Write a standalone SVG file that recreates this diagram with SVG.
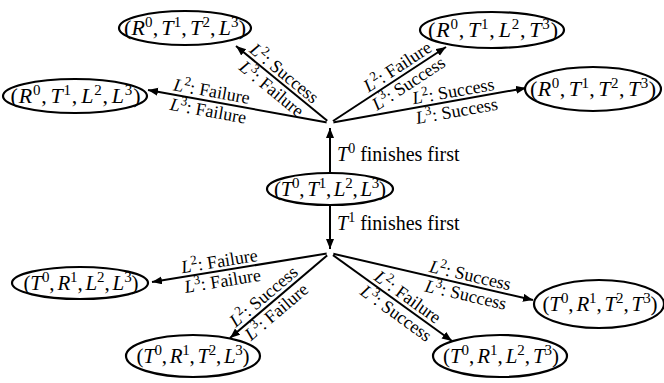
<svg xmlns="http://www.w3.org/2000/svg" width="664" height="383" viewBox="0 0 664 383">
<style>
.e{stroke:#000;stroke-width:2;fill:none;marker-end:url(#ah)}
.n ellipse{fill:#fff;stroke:#000;stroke-width:2.2}
.t{font-family:"Liberation Serif","Times New Roman",serif;font-size:22px;text-anchor:middle;fill:#000}
.t .s{font-size:15px}
.l{font-family:"Liberation Serif","Times New Roman",serif;font-size:18px;text-anchor:middle;fill:#000}
.v{font-family:"Liberation Serif","Times New Roman",serif;font-size:20px;fill:#000}
.i{font-style:italic}
.s{font-size:14px}
.l .s{font-size:13px}
</style>
<defs>
<marker id="ah" markerUnits="userSpaceOnUse" markerWidth="11" markerHeight="9" refX="10" refY="4" orient="auto">
<path d="M0,0 L10,4 L0,8 z" fill="#000"/>
</marker>
</defs>
<g id="connectors">
<line class="e" x1="330" y1="173" x2="330" y2="128"/>
<line class="e" x1="330" y1="205" x2="330" y2="249"/>
<line class="e" x1="330" y1="123" x2="236" y2="46"/>
<line class="e" x1="330" y1="123" x2="148" y2="90"/>
<line class="e" x1="330" y1="123" x2="446" y2="47"/>
<line class="e" x1="330" y1="123" x2="526" y2="88"/>
<line class="e" x1="330" y1="253" x2="152" y2="282"/>
<line class="e" x1="330" y1="253" x2="230" y2="338"/>
<line class="e" x1="330" y1="253" x2="533" y2="300"/>
<line class="e" x1="330" y1="253" x2="452" y2="341"/>
<circle cx="330" cy="123" r="3.5" fill="#fff"/>
<circle cx="330" cy="253" r="3.5" fill="#fff"/>
<text class="v" x="337" y="161"><tspan class="i">T</tspan><tspan class="s" dy="-8">0</tspan><tspan dy="8"> finishes first</tspan></text>
<text class="v" x="337" y="230"><tspan class="i">T</tspan><tspan class="s" dy="-8">1</tspan><tspan dy="8"> finishes first</tspan></text>
<g transform="translate(278,81) rotate(39.3)">
<text class="l" y="-4"><tspan class="i">L</tspan><tspan class="s" dy="-7">2</tspan><tspan dy="7">: Success</tspan></text>
<text class="l" y="16"><tspan class="i">L</tspan><tspan class="s" dy="-7">3</tspan><tspan dy="7">: Failure</tspan></text>
</g>
<g transform="translate(210,101) rotate(10.3)">
<text class="l" y="-4"><tspan class="i">L</tspan><tspan class="s" dy="-7">2</tspan><tspan dy="7">: Failure</tspan></text>
<text class="l" y="16"><tspan class="i">L</tspan><tspan class="s" dy="-7">3</tspan><tspan dy="7">: Failure</tspan></text>
</g>
<g transform="translate(403,75) rotate(-33.2)">
<text class="l" y="-4"><tspan class="i">L</tspan><tspan class="s" dy="-7">2</tspan><tspan dy="7">: Failure</tspan></text>
<text class="l" y="16"><tspan class="i">L</tspan><tspan class="s" dy="-7">3</tspan><tspan dy="7">: Success</tspan></text>
</g>
<g transform="translate(455,101) rotate(-10.1)">
<text class="l" y="-4"><tspan class="i">L</tspan><tspan class="s" dy="-7">2</tspan><tspan dy="7">: Success</tspan></text>
<text class="l" y="16"><tspan class="i">L</tspan><tspan class="s" dy="-7">3</tspan><tspan dy="7">: Success</tspan></text>
</g>
<g transform="translate(221,271) rotate(-9.25)">
<text class="l" y="-4"><tspan class="i">L</tspan><tspan class="s" dy="-7">2</tspan><tspan dy="7">: Failure</tspan></text>
<text class="l" y="16"><tspan class="i">L</tspan><tspan class="s" dy="-7">3</tspan><tspan dy="7">: Failure</tspan></text>
</g>
<g transform="translate(270,304) rotate(-40.4)">
<text class="l" y="-4"><tspan class="i">L</tspan><tspan class="s" dy="-7">2</tspan><tspan dy="7">: Success</tspan></text>
<text class="l" y="16"><tspan class="i">L</tspan><tspan class="s" dy="-7">3</tspan><tspan dy="7">: Failure</tspan></text>
</g>
<g transform="translate(468,285) rotate(13)">
<text class="l" y="-4"><tspan class="i">L</tspan><tspan class="s" dy="-7">2</tspan><tspan dy="7">: Success</tspan></text>
<text class="l" y="16"><tspan class="i">L</tspan><tspan class="s" dy="-7">3</tspan><tspan dy="7">: Success</tspan></text>
</g>
<g transform="translate(402,305) rotate(35.8)">
<text class="l" y="-4"><tspan class="i">L</tspan><tspan class="s" dy="-7">2</tspan><tspan dy="7">: Failure</tspan></text>
<text class="l" y="16"><tspan class="i">L</tspan><tspan class="s" dy="-7">3</tspan><tspan dy="7">: Success</tspan></text>
</g>
</g>
<g id="n_center" class="n">
<ellipse cx="330" cy="189" rx="63" ry="16"/>
<text class="t" x="330" y="196" textLength="112" lengthAdjust="spacing" style="font-size:21px">(<tspan class="i">T</tspan><tspan class="s" dy="-8">0</tspan><tspan dy="8">,</tspan><tspan class="i" dx="3">T</tspan><tspan class="s" dy="-8">1</tspan><tspan dy="8">,</tspan><tspan class="i" dx="3">L</tspan><tspan class="s" dy="-8">2</tspan><tspan dy="8">,</tspan><tspan class="i" dx="3">L</tspan><tspan class="s" dy="-8">3</tspan><tspan dy="8">)</tspan></text>
</g>
<g id="n_r0t1t2l3" class="n">
<ellipse cx="185" cy="28" rx="66" ry="17"/>
<text class="t" x="185" y="35" textLength="122" lengthAdjust="spacing">(<tspan class="i">R</tspan><tspan class="s" dy="-8">0</tspan><tspan dy="8">,</tspan><tspan class="i" dx="3">T</tspan><tspan class="s" dy="-8">1</tspan><tspan dy="8">,</tspan><tspan class="i" dx="3">T</tspan><tspan class="s" dy="-8">2</tspan><tspan dy="8">,</tspan><tspan class="i" dx="3">L</tspan><tspan class="s" dy="-8">3</tspan><tspan dy="8">)</tspan></text>
</g>
<g id="n_r0t1l2l3" class="n">
<ellipse cx="75" cy="96" rx="72" ry="17"/>
<text class="t" x="75.5" y="103" textLength="130" lengthAdjust="spacing">(<tspan class="i">R</tspan><tspan class="s" dy="-8">0</tspan><tspan dy="8">,</tspan><tspan class="i" dx="3">T</tspan><tspan class="s" dy="-8">1</tspan><tspan dy="8">,</tspan><tspan class="i" dx="3">L</tspan><tspan class="s" dy="-8">2</tspan><tspan dy="8">,</tspan><tspan class="i" dx="3">L</tspan><tspan class="s" dy="-8">3</tspan><tspan dy="8">)</tspan></text>
</g>
<g id="n_r0t1l2t3" class="n">
<ellipse cx="492" cy="30" rx="72" ry="18"/>
<text class="t" x="493" y="37" textLength="130" lengthAdjust="spacing">(<tspan class="i">R</tspan><tspan class="s" dy="-8">0</tspan><tspan dy="8">,</tspan><tspan class="i" dx="3">T</tspan><tspan class="s" dy="-8">1</tspan><tspan dy="8">,</tspan><tspan class="i" dx="3">L</tspan><tspan class="s" dy="-8">2</tspan><tspan dy="8">,</tspan><tspan class="i" dx="3">T</tspan><tspan class="s" dy="-8">3</tspan><tspan dy="8">)</tspan></text>
</g>
<g id="n_r0t1t2t3" class="n">
<ellipse cx="593" cy="89" rx="68" ry="22"/>
<text class="t" x="593" y="96" textLength="126" lengthAdjust="spacing">(<tspan class="i">R</tspan><tspan class="s" dy="-8">0</tspan><tspan dy="8">,</tspan><tspan class="i" dx="3">T</tspan><tspan class="s" dy="-8">1</tspan><tspan dy="8">,</tspan><tspan class="i" dx="3">T</tspan><tspan class="s" dy="-8">2</tspan><tspan dy="8">,</tspan><tspan class="i" dx="3">T</tspan><tspan class="s" dy="-8">3</tspan><tspan dy="8">)</tspan></text>
</g>
<g id="n_t0r1l2l3" class="n">
<ellipse cx="80" cy="283" rx="68" ry="16"/>
<text class="t" x="81" y="290" textLength="115" lengthAdjust="spacing" style="font-size:21px">(<tspan class="i">T</tspan><tspan class="s" dy="-8">0</tspan><tspan dy="8">,</tspan><tspan class="i" dx="3">R</tspan><tspan class="s" dy="-8">1</tspan><tspan dy="8">,</tspan><tspan class="i" dx="3">L</tspan><tspan class="s" dy="-8">2</tspan><tspan dy="8">,</tspan><tspan class="i" dx="3">L</tspan><tspan class="s" dy="-8">3</tspan><tspan dy="8">)</tspan></text>
</g>
<g id="n_t0r1t2l3" class="n">
<ellipse cx="193" cy="356" rx="67" ry="21"/>
<text class="t" x="193" y="363" textLength="113" lengthAdjust="spacing" style="font-size:21px">(<tspan class="i">T</tspan><tspan class="s" dy="-8">0</tspan><tspan dy="8">,</tspan><tspan class="i" dx="3">R</tspan><tspan class="s" dy="-8">1</tspan><tspan dy="8">,</tspan><tspan class="i" dx="3">T</tspan><tspan class="s" dy="-8">2</tspan><tspan dy="8">,</tspan><tspan class="i" dx="3">L</tspan><tspan class="s" dy="-8">3</tspan><tspan dy="8">)</tspan></text>
</g>
<g id="n_t0r1t2t3" class="n">
<ellipse cx="599" cy="304" rx="65" ry="24"/>
<text class="t" x="600" y="311" textLength="115" lengthAdjust="spacing" style="font-size:21px">(<tspan class="i">T</tspan><tspan class="s" dy="-8">0</tspan><tspan dy="8">,</tspan><tspan class="i" dx="3">R</tspan><tspan class="s" dy="-8">1</tspan><tspan dy="8">,</tspan><tspan class="i" dx="3">T</tspan><tspan class="s" dy="-8">2</tspan><tspan dy="8">,</tspan><tspan class="i" dx="3">T</tspan><tspan class="s" dy="-8">3</tspan><tspan dy="8">)</tspan></text>
</g>
<g id="n_t0r1l2t3" class="n">
<ellipse cx="500" cy="356" rx="67" ry="21"/>
<text class="t" x="501" y="363" textLength="116" lengthAdjust="spacing" style="font-size:21px">(<tspan class="i">T</tspan><tspan class="s" dy="-8">0</tspan><tspan dy="8">,</tspan><tspan class="i" dx="3">R</tspan><tspan class="s" dy="-8">1</tspan><tspan dy="8">,</tspan><tspan class="i" dx="3">L</tspan><tspan class="s" dy="-8">2</tspan><tspan dy="8">,</tspan><tspan class="i" dx="3">T</tspan><tspan class="s" dy="-8">3</tspan><tspan dy="8">)</tspan></text>
</g>
</svg>
